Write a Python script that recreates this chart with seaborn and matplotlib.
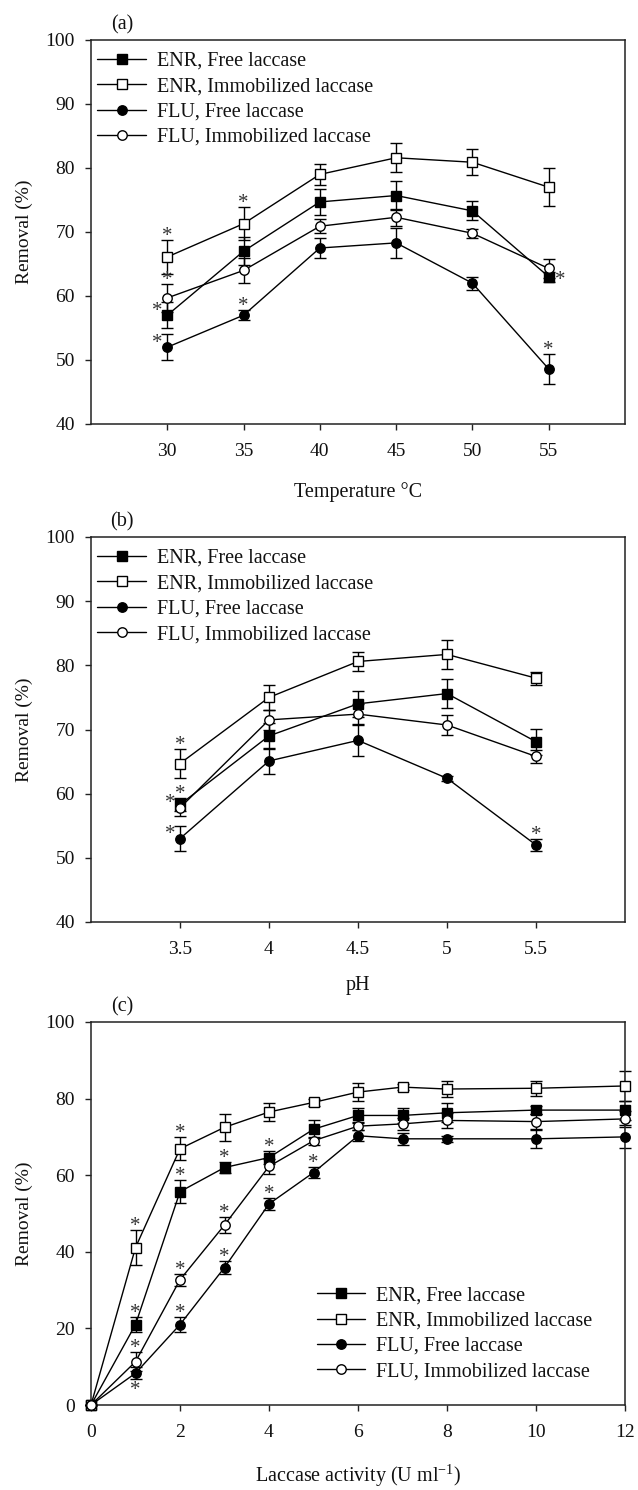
import matplotlib
matplotlib.use("Agg")
import matplotlib.pyplot as plt
import seaborn as sns
import pandas as pd

# ---------------- data ----------------
series_labels = ["ENR, Free laccase", "ENR, Immobilized laccase",
                 "FLU, Free laccase", "FLU, Immobilized laccase"]
series_keys = ["enr_free", "enr_imm", "flu_free", "flu_imm"]

# (a) temperature
temp = [30, 35, 40, 45, 50, 55]
a_enr_free = [57.0, 67.0, 74.7, 75.7, 73.3, 63.0]
a_enr_free_err = [2.0, 2.2, 2.0, 2.2, 1.5, 0.8]
a_enr_imm = [66.1, 71.3, 79.0, 81.6, 80.9, 77.0]
a_enr_imm_err = [2.6, 2.6, 1.7, 2.3, 2.0, 3.0]
a_flu_free = [52.0, 57.0, 67.5, 68.3, 62.0, 48.6]
a_flu_free_err = [2.0, 0.8, 1.6, 2.4, 1.0, 2.3]
a_flu_imm = [59.7, 64.0, 70.9, 72.3, 69.8, 64.3]
a_flu_imm_err = [2.2, 1.9, 1.1, 1.3, 0.7, 1.5]
a_stars = [("enr_imm", 30, "above"), ("flu_imm", 30, "above"),
           ("enr_free", 30, "left"), ("flu_free", 30, "left"),
           ("enr_imm", 35, "above"), ("flu_free", 35, "above"),
           ("enr_free", 55, "right"), ("flu_free", 55, "above")]

# (b) pH
ph = [3.5, 4.0, 4.5, 5.0, 5.5]
ph_ticklabels = ["3.5", "4", "4.5", "5", "5.5"]
b_enr_free = [58.3, 69.0, 74.0, 75.6, 68.1]
b_enr_free_err = [1.0, 2.0, 2.0, 2.3, 2.0]
b_enr_imm = [64.7, 75.0, 80.6, 81.7, 78.0]
b_enr_imm_err = [2.3, 2.0, 1.5, 2.3, 1.0]
b_flu_free = [53.0, 65.1, 68.3, 62.4, 52.0]
b_flu_free_err = [2.0, 2.0, 2.4, 0.4, 1.0]
b_flu_imm = [57.8, 71.5, 72.4, 70.7, 65.8]
b_flu_imm_err = [1.3, 1.6, 1.5, 1.5, 1.0]
b_stars = [("enr_imm", 3.5, "above"), ("enr_free", 3.5, "above"),
           ("flu_imm", 3.5, "left"), ("flu_free", 3.5, "left"),
           ("flu_free", 5.5, "above")]

# (c) laccase activity
activity = [0, 1, 2, 3, 4, 5, 6, 7, 8, 10, 12]
c_enr_free = [0, 21.0, 55.7, 62.0, 64.6, 72.0, 75.6, 75.6, 76.3, 77.0, 77.0]
c_enr_free_err = [0, 2.0, 3.0, 1.5, 1.7, 2.4, 2.0, 2.0, 2.5, 1.0, 2.5]
c_enr_imm = [0, 41.1, 66.9, 72.5, 76.5, 79.0, 81.7, 83.0, 82.5, 82.7, 83.3]
c_enr_imm_err = [0, 4.5, 3.0, 3.5, 2.4, 1.0, 2.3, 0.8, 2.0, 2.0, 3.8]
c_flu_free = [0, 8.3, 21.0, 35.9, 52.5, 60.7, 70.3, 69.5, 69.5, 69.5, 70.0]
c_flu_free_err = [0, 1.5, 2.0, 1.8, 1.5, 1.5, 1.5, 1.5, 0.8, 2.4, 3.0]
c_flu_imm = [0, 11.3, 32.7, 47.0, 62.3, 69.0, 72.8, 73.4, 74.3, 74.0, 74.7]
c_flu_imm_err = [0, 2.5, 1.5, 2.0, 2.0, 1.0, 1.0, 1.5, 2.0, 2.0, 2.0]
c_stars = [("enr_imm", 1, "above"), ("enr_free", 1, "above"),
           ("flu_imm", 1, "above"), ("flu_free", 1, "below"),
           ("enr_imm", 2, "above"), ("enr_free", 2, "above"),
           ("flu_imm", 2, "above"), ("flu_free", 2, "above"),
           ("enr_free", 3, "above"), ("flu_imm", 3, "above"),
           ("flu_free", 3, "above"),
           ("enr_free", 4, "above"), ("flu_free", 4, "above"),
           ("flu_free", 5, "above")]

# ---------------- style ----------------
sns.set_style("ticks")
plt.rcParams["font.family"] = ["Liberation Serif", "DejaVu Serif"]
plt.rcParams["mathtext.fontset"] = "custom"
plt.rcParams["mathtext.rm"] = "Liberation Serif"
plt.rcParams["axes.edgecolor"] = "#222222"

marker_style = {
    "enr_free": dict(marker="s", mfc="black"),
    "enr_imm": dict(marker="s", mfc="white"),
    "flu_free": dict(marker="o", mfc="black"),
    "flu_imm": dict(marker="o", mfc="white"),
}

W, H = 638, 1490
fig = plt.figure(figsize=(W / 100, H / 100), dpi=100)

left = 91 / W
right = 625 / W
panels = [(40, 424), (537, 922), (1022, 1405)]
axes = []
for top_px, bot_px in panels:
    ax = fig.add_axes([left, 1 - bot_px / H, right - left, (bot_px - top_px) / H])
    axes.append(ax)


def draw_panel(ax, x, ys, errs, stars, xlim, ylim, yticks, xticks, xticklabels,
               xlabel, tag, legend_loc, legend_anchor, xlabel_y):
    for key, label in zip(series_keys, series_labels):
        y = ys[key]
        e = errs[key]
        ax.errorbar(x, y, yerr=e, fmt="none", ecolor="black", elinewidth=1.0,
                    capsize=4.2, capthick=1.0, zorder=2)
        df = pd.DataFrame({"x": x, "y": y})
        st = marker_style[key]
        sns.lineplot(data=df, x="x", y="y", ax=ax, color="black", linewidth=1.0,
                     marker=st["marker"], markersize=6.8,
                     markerfacecolor=st["mfc"], markeredgecolor="black",
                     markeredgewidth=1.0, label=label, errorbar=None,
                     zorder=3, legend=False)
    for ln in ax.lines:
        ln.set_clip_on(False)

    for key, xv, where in stars:
        i = list(x).index(xv)
        v = ys[key][i]
        e = errs[key][i]
        if where == "above":
            xy, off = (xv, v + e), (0, 2.5)
        elif where == "below":
            xy, off = (xv, v - e), (0, -8.5)
        elif where == "left":
            xy, off = (xv, v), (-7, 3)
        else:
            xy, off = (xv, v), (8.5, -2.5)
        ax.annotate("*", xy=xy, xytext=off, textcoords="offset points",
                    ha="center", va="center", fontsize=15, color="#333333",
                    zorder=5, annotation_clip=False)

    ax.set_xlim(*xlim)
    ax.set_ylim(*ylim)
    ax.set_yticks(yticks)
    ax.set_xticks(xticks)
    ax.set_xticklabels(xticklabels)
    ax.tick_params(axis="both", which="both", direction="out", length=4.5,
                   width=1.0, labelsize=14, colors="#222222",
                   labelcolor="#111111")
    ax.tick_params(axis="x", pad=9)
    ax.tick_params(axis="y", pad=7)
    for sp in ax.spines.values():
        sp.set_visible(True)
        sp.set_linewidth(1.1)
    ax.set_xlabel(xlabel, fontsize=14.5, color="#111111")
    ax.xaxis.set_label_coords(0.5, xlabel_y)
    ax.set_ylabel("Removal (%)", fontsize=14, color="#111111", va="center")
    ax.yaxis.set_label_coords(-0.125, 0.5)
    ax.text(0.058, 1.04, tag, transform=ax.transAxes, fontsize=14.5,
            ha="center", va="center", color="#111111")

    handles = []
    for key, label in zip(series_keys, series_labels):
        st = marker_style[key]
        h, = ax.plot([], [], color="black", linewidth=1.0, marker=st["marker"],
                     markersize=6.8, markerfacecolor=st["mfc"],
                     markeredgecolor="black", markeredgewidth=1.0)
        handles.append(h)
    ax.legend(handles, series_labels, loc=legend_loc,
              bbox_to_anchor=legend_anchor, frameon=False, fontsize=14.5,
              handlelength=2.4, handletextpad=0.55, labelspacing=0.31,
              borderpad=0, borderaxespad=0, labelcolor="#111111")


draw_panel(axes[0], temp,
           {"enr_free": a_enr_free, "enr_imm": a_enr_imm,
            "flu_free": a_flu_free, "flu_imm": a_flu_imm},
           {"enr_free": a_enr_free_err, "enr_imm": a_enr_imm_err,
            "flu_free": a_flu_free_err, "flu_imm": a_flu_imm_err},
           a_stars, (25, 60), (40, 100), [40, 50, 60, 70, 80, 90, 100],
           temp, [str(t) for t in temp], "Temperature °C", "(a)",
           "upper left", (0.012, 0.969), -0.15)

draw_panel(axes[1], ph,
           {"enr_free": b_enr_free, "enr_imm": b_enr_imm,
            "flu_free": b_flu_free, "flu_imm": b_flu_imm},
           {"enr_free": b_enr_free_err, "enr_imm": b_enr_imm_err,
            "flu_free": b_flu_free_err, "flu_imm": b_flu_imm_err},
           b_stars, (3.0, 6.0), (40, 100), [40, 50, 60, 70, 80, 90, 100],
           ph, ph_ticklabels, "pH", "(b)",
           "upper left", (0.012, 0.969), -0.14)

draw_panel(axes[2], activity,
           {"enr_free": c_enr_free, "enr_imm": c_enr_imm,
            "flu_free": c_flu_free, "flu_imm": c_flu_imm},
           {"enr_free": c_enr_free_err, "enr_imm": c_enr_imm_err,
            "flu_free": c_flu_free_err, "flu_imm": c_flu_imm_err},
           c_stars, (0, 12), (0, 100), [0, 20, 40, 60, 80, 100],
           [0, 2, 4, 6, 8, 10, 12], ["0", "2", "4", "6", "8", "10", "12"],
           r"Laccase activity (U ml$^{\mathregular{-1}}$)", "(c)",
           "lower left", (0.423, 0.062), -0.148)

fig.savefig("out.png", dpi=100)
